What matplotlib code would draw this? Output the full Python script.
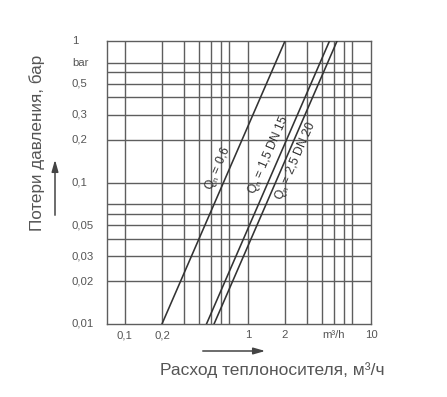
import math
import matplotlib
matplotlib.use('Agg')
import matplotlib.pyplot as plt
from matplotlib.transforms import offset_copy

plt.rcParams['font.family'] = ['Liberation Sans', 'DejaVu Sans']
plt.rcParams['mathtext.default'] = 'regular'

# ---- data ----
dp_range = [0.01, 1.0]                 # pressure loss range of the lines, bar
q_at_dp_min = [0.2, 0.46, 0.53]        # flow at 0.01 bar, m3/h
q_at_dp_max = [2.0, 4.6, 5.3]          # flow at 1 bar, m3/h
series_labels = ['Q$_n$ = 0,6', 'Q$_n$ = 1,5 DN 15', 'Q$_n$ = 2,5 DN 20']
label_dp = [0.117, 0.147, 0.151]       # pressure where each label sits
label_side = ['left', 'left', 'right']

x_grid = [0.1, 0.2, 0.3, 0.4, 0.5, 0.6, 0.7, 1, 2, 3, 4, 5, 6, 7]
y_grid = [0.02, 0.03, 0.04, 0.05, 0.06, 0.07, 0.1, 0.2, 0.3, 0.4, 0.5, 0.6, 0.7]
x_tick_vals = [0.1, 0.2, 1, 2, 5, 10]
x_tick_labels = ['0,1', '0,2', '1', '2', 'm³/h', '10']
y_tick_vals = [1, 0.7, 0.5, 0.3, 0.2, 0.1, 0.05, 0.03, 0.02, 0.01]
y_tick_labels = ['1', 'bar', '0,5', '0,3', '0,2', '0,1', '0,05', '0,03', '0,02', '0,01']

grid_c = '#5e5e5e'
line_c = '#333333'
text_c = '#555555'

fig = plt.figure(figsize=(4.47, 3.97), dpi=100)
ax = fig.add_axes([107/447, 1-324/397, (371-107)/447, (324-41)/397])
ax.set_xscale('log')
ax.set_yscale('log')
ax.set_xlim(0.0715, 10)
ax.set_ylim(0.01, 1.0)

for xv in x_grid:
    ax.axvline(xv, color=grid_c, lw=1.0, zorder=1)
for yv in y_grid:
    ax.axhline(yv, color=grid_c, lw=1.0, zorder=1)

ax.set_xticks([]); ax.set_yticks([])
ax.minorticks_off()
for s in ax.spines.values():
    s.set_color(grid_c)
    s.set_linewidth(1.0)

for q0, q1 in zip(q_at_dp_min, q_at_dp_max):
    ax.plot([q0, q1], dp_range, color=line_c, lw=1.15, zorder=3)

ang = 66.4
for lab, q0, q1, ld, side in zip(series_labels, q_at_dp_min, q_at_dp_max, label_dp, label_side):
    frac = (math.log10(ld) - math.log10(dp_range[0])) / (math.log10(dp_range[1]) - math.log10(dp_range[0]))
    lq = 10 ** (math.log10(q0) + frac * (math.log10(q1) - math.log10(q0)))
    sgn = 1 if side == 'left' else -1
    tr = offset_copy(ax.transData, fig=fig, x=-sgn*1.4, y=sgn*0.6, units='points')
    ax.text(lq, ld, lab, rotation=ang, rotation_mode='anchor', ha='center',
            va='bottom' if side == 'left' else 'top', fontsize=8.7, color=line_c,
            zorder=4, transform=tr)

xt = ax.get_xaxis_transform()
for v, l in zip(x_tick_vals, x_tick_labels):
    ax.text(v, -0.039, l, transform=xt, ha='center', va='center', fontsize=8.2, color=text_c)
yt = ax.get_yaxis_transform()
for v, l in zip(y_tick_vals, y_tick_labels):
    ax.text(-0.1326, v, l, transform=yt, ha='left', va='center', fontsize=8.2, color=text_c)

fig.text(37/447, 1-143/397, 'Потери давления, бар', rotation=90, ha='center', va='center',
         fontsize=12.3, color=text_c)
fig.text(272/447, 1-370/397, 'Расход теплоносителя, м³/ч', ha='center', va='center',
         fontsize=12.5, color=text_c)

fig.patches.append(matplotlib.patches.FancyArrowPatch(
    (55/447, 1-218/397), (55/447, 1-157/397), transform=fig.transFigure,
    arrowstyle='-|>,head_length=7,head_width=2', color='#444444', lw=1.1))
fig.patches.append(matplotlib.patches.FancyArrowPatch(
    (200/447, 1-351/397), (268/447, 1-351/397), transform=fig.transFigure,
    arrowstyle='-|>,head_length=7,head_width=2', color='#444444', lw=1.1))

fig.savefig('out.png', dpi=100)
